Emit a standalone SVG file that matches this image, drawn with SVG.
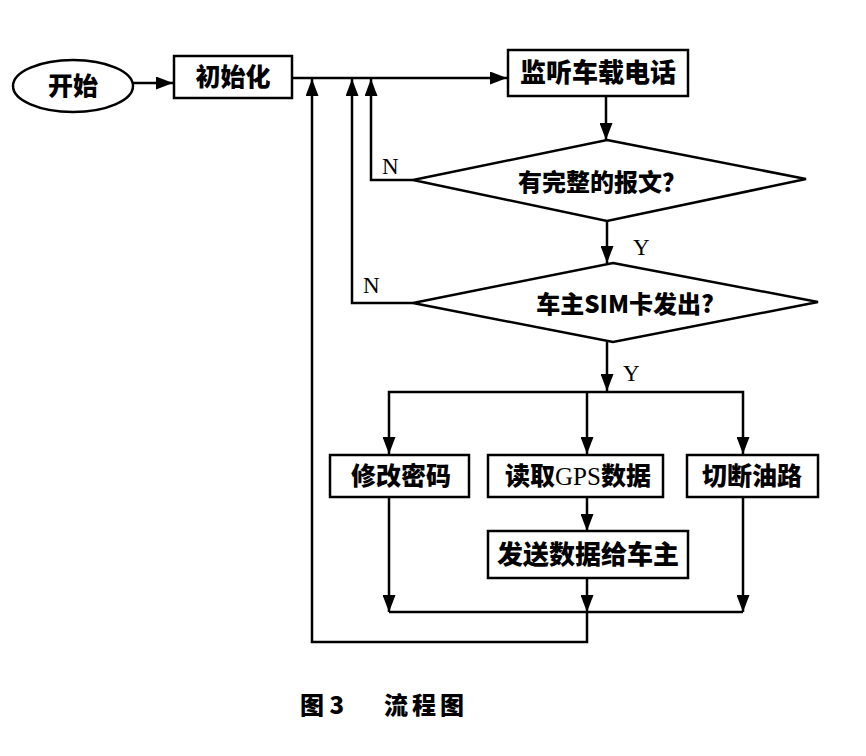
<svg xmlns="http://www.w3.org/2000/svg" width="866" height="756" viewBox="0 0 866 756">
<style>
.s{fill:#fff;stroke:#000;stroke-width:2.5}
.c{fill:none;stroke:#000;stroke-width:2.5}
.t{font-family:"Noto Sans CJK SC","Liberation Sans",sans-serif;font-weight:900;font-size:25px;fill:#000;text-anchor:middle}
.l{font-family:"Liberation Serif",serif;font-size:23px;fill:#000}
</style>
<defs>
<marker id="a" viewBox="0 0 17 13" markerWidth="17" markerHeight="13" refX="17" refY="6.5" orient="auto" markerUnits="userSpaceOnUse">
<path d="M0,0 L17,6.5 L0,13 z" fill="#000"/>
</marker>
</defs>
<rect width="866" height="756" fill="#fff"/>
<g id="connectors">
<path class="c" d="M133,83 H173" marker-end="url(#a)"/>
<path class="c" d="M292,78 H507" marker-end="url(#a)"/>
<path class="c" d="M606,96 V140" marker-end="url(#a)"/>
<path class="c" d="M607,221 V263" marker-end="url(#a)"/>
<path class="c" d="M607,342 V391" marker-end="url(#a)"/>
<path class="c" d="M607,392 H389 V454" marker-end="url(#a)"/>
<path class="c" d="M607,392 H743 V454" marker-end="url(#a)"/>
<path class="c" d="M587,392 V454" marker-end="url(#a)"/>
<path class="c" d="M587,497 V531" marker-end="url(#a)"/>
<path class="c" d="M389,497 V612" marker-end="url(#a)"/>
<path class="c" d="M743,497 V612" marker-end="url(#a)"/>
<path class="c" d="M587,578 V612" marker-end="url(#a)"/>
<path class="c" d="M389,612 H743"/>
<path class="c" d="M587,612 V642 H312 V79" marker-end="url(#a)"/>
<path class="c" d="M413,180 H371 V79" marker-end="url(#a)"/>
<path class="c" d="M413,303 H352 V79" marker-end="url(#a)"/>
<text class="l" x="382" y="174">N</text>
<text class="l" x="363" y="293">N</text>
<text class="l" x="633" y="255">Y</text>
<text class="l" x="623" y="381">Y</text>
</g>
<g id="start">
<ellipse class="s" cx="73" cy="86" rx="60" ry="26"/>
<text class="t" x="73" y="95">开始</text>
</g>
<g id="init">
<rect class="s" x="174" y="56" width="118" height="42"/>
<text class="t" x="233" y="86">初始化</text>
</g>
<g id="listen">
<rect class="s" x="508" y="50" width="180" height="46"/>
<text class="t" x="598" y="82" style="font-size:26px">监听车载电话</text>
</g>
<g id="d1">
<polygon class="s" points="607,140 806,179 607,221 413,180"/>
<text class="t" x="602" y="191" style="font-size:24px">有完整的报文？</text>
</g>
<g id="d2">
<polygon class="s" points="613,263 818,302 613,342 413,303"/>
<text class="t" x="625" y="313" style="font-size:24px">车主SIM卡发出?</text>
</g>
<g id="pwd">
<rect class="s" x="330" y="455" width="139" height="42"/>
<text class="t" x="401" y="485">修改密码</text>
</g>
<g id="gps">
<rect class="s" x="488" y="455" width="175" height="42"/>
<text class="t" x="578" y="485">读取<tspan style="font-family:'Liberation Serif',serif;font-weight:normal">GPS</tspan>数据</text>
</g>
<g id="cut">
<rect class="s" x="687" y="455" width="131" height="42"/>
<text class="t" x="752" y="485">切断油路</text>
</g>
<g id="send">
<rect class="s" x="488" y="531" width="200" height="47"/>
<text class="t" x="588" y="564" style="font-size:26px">发送数据给车主</text>
</g>
<g id="caption">
<text class="t" x="300" y="714" style="font-size:24px;text-anchor:start">图 3</text>
<text class="t" x="384" y="714" style="font-size:24px;text-anchor:start;letter-spacing:4px">流程图</text>
</g>
</svg>
